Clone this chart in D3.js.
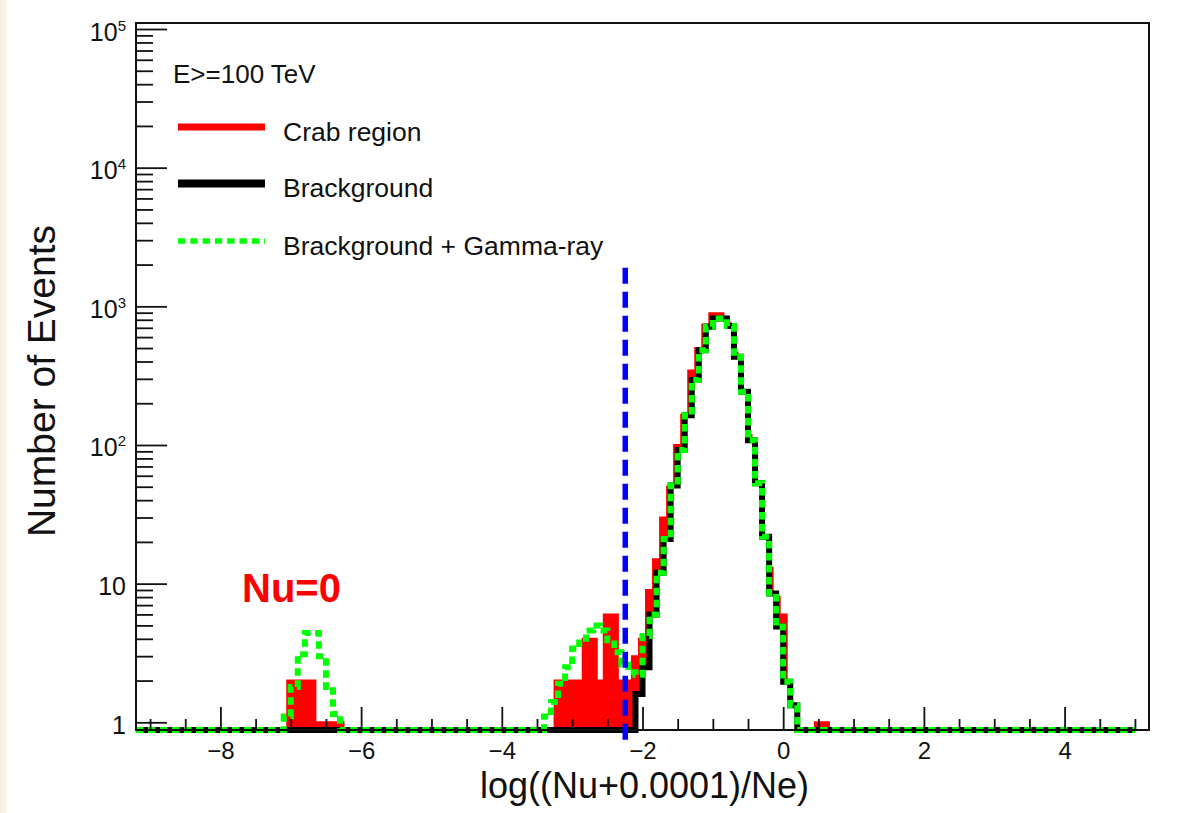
<!DOCTYPE html>
<html>
<head>
<meta charset="utf-8">
<script src="https://cdn.jsdelivr.net/npm/d3@7"></script>
<style>
  html, body { margin: 0; padding: 0; background: #ffffff; }
  svg { display: block; }
  text { font-family: "Liberation Sans", Arial, Helvetica, sans-serif; fill: #111; }
</style>
</head>
<body>
<svg id="chart" width="1178" height="813"></svg>
<script>
// ---------------------------------------------------------------------------
// Histogram contents, log((Nu+0.0001)/Ne), bin width 0.1.
// Background and Background+Gamma bins start at a left edge of -9.2;
// the Crab-region bins are centred on multiples of 0.1 (first centre -9.2).
// One row per unit of x.
// ---------------------------------------------------------------------------
const binWidth = 0.1;
const bkgFirstEdge = -9.2;
const crabFirstCenter = -9.2;

const crabCounts = [
  0, 0,                                   // -9.2 .. -9.1
  0, 0, 0, 0, 0, 0, 0, 0, 0, 0,           // -9.0 .. -8.1
  0, 0, 0, 0, 0, 0, 0, 0, 0, 0,           // -8.0 .. -7.1
  2, 2, 2, 2, 1, 1, 1, 1, 0, 0,           // -7.0 .. -6.1
  0, 0, 0, 0, 0, 0, 0, 0, 0, 0,           // -6.0 .. -5.1
  0, 0, 0, 0, 0, 0, 0, 0, 0, 0,           // -5.0 .. -4.1
  0, 0, 0, 0, 0, 0, 0, 0, 2, 2,           // -4.0 .. -3.1
  2, 2, 4, 4, 2, 6, 6, 2, 2, 3,           // -3.0 .. -2.1
  4, 9, 15, 30, 50, 100, 165, 345, 500, 740,        // -2.0 .. -1.1
  890, 890, 760, 460, 250, 118, 47, 20, 13, 8,       // -1.0 .. -0.1
  6, 0, 0, 0, 0, 1, 1, 0, 0, 0,           //  0.0 ..  0.9
  0, 0, 0, 0, 0, 0, 0, 0, 0, 0,           //  1.0 ..  1.9
  0, 0, 0, 0, 0, 0, 0, 0, 0, 0,           //  2.0 ..  2.9
  0, 0, 0, 0, 0, 0, 0, 0, 0, 0,           //  3.0 ..  3.9
  0, 0, 0, 0, 0, 0, 0, 0, 0, 0            //  4.0 ..  4.9
];

const backgroundCounts = [
  0, 0,
  0, 0, 0, 0, 0, 0, 0, 0, 0, 0,
  0, 0, 0, 0, 0, 0, 0, 0, 0, 0,
  0, 0, 0, 0, 0, 0, 0, 0, 0, 0,
  0, 0, 0, 0, 0, 0, 0, 0, 0, 0,
  0, 0, 0, 0, 0, 0, 0, 0, 0, 0,
  0, 0, 0, 0, 0, 0, 0, 0, 0, 0,
  0, 0, 0, 0, 0, 0, 0, 0, 0, 1.6,
  2.5, 6.0, 12, 21, 51, 92, 164, 294, 483, 711,
  818, 818, 720, 432, 242, 108, 53, 21.8, 8.5, 4.9,
  1.96, 1.33, 0, 0, 0, 0, 0, 0, 0, 0,
  0, 0, 0, 0, 0, 0, 0, 0, 0, 0,
  0, 0, 0, 0, 0, 0, 0, 0, 0, 0,
  0, 0, 0, 0, 0, 0, 0, 0, 0, 0,
  0, 0, 0, 0, 0, 0, 0, 0, 0, 0
];

const bkgGammaCounts = [
  0, 0,
  0, 0, 0, 0, 0, 0, 0, 0, 0, 0,
  0, 0, 0, 0, 0, 0, 0, 0, 0, 1.1,
  1.8, 3.1, 4.4, 4.4, 3.0, 1.8, 1.15, 0, 0, 0,
  0, 0, 0, 0, 0, 0, 0, 0, 0, 0,
  0, 0, 0, 0, 0, 0, 0, 0, 0, 0,
  0, 0, 0, 0, 0, 0, 1.1, 1.4, 1.9, 2.5,
  3.4, 4.0, 4.6, 5.0, 4.6, 3.9, 3.2, 2.6, 2.3, 2.2,
  4.2, 6.0, 12, 21, 51, 92, 164, 294, 483, 711,
  818, 818, 720, 432, 242, 108, 53, 21.8, 8.5, 4.9,
  1.96, 1.33, 0, 0, 0, 0, 0, 0, 0, 0,
  0, 0, 0, 0, 0, 0, 0, 0, 0, 0,
  0, 0, 0, 0, 0, 0, 0, 0, 0, 0,
  0, 0, 0, 0, 0, 0, 0, 0, 0, 0,
  0, 0, 0, 0, 0, 0, 0, 0, 0, 0
];

// Axis ranges and ticks
const xDomain = [-9.2, 5.2];
const yDomain = [0.88, 1.105e5];
const xMajorTicks = [-8, -6, -4, -2, 0, 2, 4];
const xMinorTicks = [-9, -8.5, -7.5, -7, -6.5, -5.5, -5, -4.5, -3.5, -3, -2.5,
                     -1.5, -1, -0.5, 0.5, 1, 1.5, 2.5, 3, 3.5, 4.5, 5];
const yMajorPowers = [0, 1, 2, 3, 4, 5];
const yMinorMantissas = [2, 3, 4, 5, 6, 7, 8, 9];

// Nu threshold cut (blue dashed line)
const cutX = -2.245;
const cutFrom = 1900;
const cutTo = 0.745;

// Texts
const energyLabel = "E>=100 TeV";
const legendLabels = ["Crab region", "Brackground", "Brackground + Gamma-ray"];
const xTitle = "log((Nu+0.0001)/Ne)";
const yTitle = "Number of Events";
const nuZeroLabel = "Nu=0";

// ---------------------------------------------------------------------------
const svg = d3.select("#chart");
const frame = { left: 136, right: 1149, top: 23, bottom: 730 };

// faint paper strip along the left border
const edgeGrad = svg.append("defs").append("linearGradient")
  .attr("id", "edgeFade").attr("x1", 0).attr("x2", 1).attr("y1", 0).attr("y2", 0);
edgeGrad.append("stop").attr("offset", 0).attr("stop-color", "#f8efe0");
edgeGrad.append("stop").attr("offset", 0.7).attr("stop-color", "#faf3e8");
edgeGrad.append("stop").attr("offset", 1).attr("stop-color", "#ffffff");
svg.append("rect").attr("x", 0).attr("y", 0).attr("width", 8).attr("height", 813)
  .attr("fill", "url(#edgeFade)");

const x = d3.scaleLinear().domain(xDomain).range([frame.left, frame.right]);
const y = d3.scaleLog().domain(yDomain).range([frame.bottom, frame.top]);
const yOf = v => (v > 0 ? y(v) : y.range()[0]);

svg.append("clipPath").attr("id", "plotClip")
  .append("rect").attr("x", frame.left).attr("y", 0)
  .attr("width", frame.right - frame.left).attr("height", 813);

function stepPoints(counts, firstEdge) {
  const pts = counts.map((c, i) => ({ e: firstEdge + i * binWidth, v: c }));
  pts.push({ e: firstEdge + counts.length * binWidth, v: counts[counts.length - 1] });
  return pts;
}

const stepLine = d3.line().curve(d3.curveStepAfter)
  .x(d => x(d.e)).y(d => yOf(d.v));
const stepArea = d3.area().curve(d3.curveStepAfter)
  .x(d => x(d.e)).y0(y.range()[0]).y1(d => yOf(d.v));

const plot = svg.append("g").attr("clip-path", "url(#plotClip)");

const crabPts = stepPoints(crabCounts, crabFirstCenter - binWidth / 2);
const bkgPts = stepPoints(backgroundCounts, bkgFirstEdge);
const gamPts = stepPoints(bkgGammaCounts, bkgFirstEdge);

// Crab region: solid red histogram
plot.append("path").attr("d", stepArea(crabPts)).attr("fill", "#ff0000");
plot.append("path").attr("d", stepLine(crabPts))
  .attr("fill", "none").attr("stroke", "#ff0000").attr("stroke-width", 2);

// Background: white-filled histogram with a thick black outline
plot.append("path").attr("d", stepArea(bkgPts)).attr("fill", "#ffffff");
plot.append("path").attr("d", stepLine(bkgPts))
  .attr("fill", "none").attr("stroke", "#000000").attr("stroke-width", 6);

// Background + Gamma-ray: green dashed outline
plot.append("path").attr("d", stepLine(gamPts))
  .attr("fill", "none").attr("stroke", "#00ff00").attr("stroke-width", 6)
  .attr("stroke-dasharray", "7.5,4.5");

// Axes (ticks point into the frame)
const tickStroke = "#111";
const xMinorAxis = d3.axisBottom(x).tickValues(xMinorTicks).tickSize(-11).tickFormat("");
const xMajorAxis = d3.axisBottom(x).tickValues(xMajorTicks).tickSize(-23).tickPadding(12)
  .tickFormat(d3.format("d"));
const yMinorValues = [];
yMajorPowers.slice(0, -1).forEach(p => yMinorMantissas.forEach(m => yMinorValues.push(m * Math.pow(10, p))));
const yMinorAxis = d3.axisLeft(y).tickValues(yMinorValues).tickSize(-17).tickFormat("");
const yMajorAxis = d3.axisLeft(y).tickValues(yMajorPowers.map(p => Math.pow(10, p)))
  .tickSize(-31).tickPadding(11).tickFormat("");

function styleAxis(g) {
  g.select(".domain").remove();
  g.selectAll(".tick line").attr("stroke", tickStroke).attr("stroke-width", 1.8);
}

svg.append("g").attr("transform", `translate(0,${frame.bottom})`).call(xMinorAxis).call(styleAxis);
const gx = svg.append("g").attr("transform", `translate(0,${frame.bottom})`).call(xMajorAxis).call(styleAxis);
gx.selectAll(".tick text").attr("font-size", 24).attr("fill", "#111")
  .style("font-family", '"Liberation Sans", Arial, sans-serif');

svg.append("g").attr("transform", `translate(${frame.left},0)`).call(yMinorAxis).call(styleAxis);
const gy = svg.append("g").attr("transform", `translate(${frame.left},0)`).call(yMajorAxis).call(styleAxis);
gy.selectAll(".tick text").each(function (d) {
  const t = d3.select(this).attr("x", -10).attr("dy", null).attr("y", 11)
    .attr("font-size", 25).attr("fill", "#111")
    .style("font-family", '"Liberation Sans", Arial, sans-serif');
  const p = Math.round(Math.log10(d));
  if (p === 0) t.text("1");
  else if (p === 1) t.text("10");
  else {
    t.append("tspan").text("10");
    t.append("tspan").attr("font-size", 15).attr("dy", -10).text(String(p));
  }
});

// Frame
svg.append("rect")
  .attr("x", frame.left).attr("y", frame.top)
  .attr("width", frame.right - frame.left).attr("height", frame.bottom - frame.top)
  .attr("fill", "none").attr("stroke", "#111").attr("stroke-width", 2);

// Cut line
svg.append("line")
  .attr("x1", x(cutX)).attr("x2", x(cutX))
  .attr("y1", y(cutFrom)).attr("y2", y(cutTo))
  .attr("stroke", "#0000ff").attr("stroke-width", 5.5)
  .attr("stroke-dasharray", "16,8");

// Axis titles
svg.append("text").attr("x", (frame.left + frame.right) / 2 + 2).attr("y", 798)
  .attr("text-anchor", "middle").attr("font-size", 36).text(xTitle);
svg.append("text").attr("transform", "translate(55,381) rotate(-90)")
  .attr("text-anchor", "middle").attr("font-size", 39).text(yTitle);

// Energy cut label and legend
svg.append("text").attr("x", 173).attr("y", 83).attr("font-size", 26).text(energyLabel);

const legendRows = [
  { label: legendLabels[0], color: "#ff0000", width: 7, dash: null, y: 127 },
  { label: legendLabels[1], color: "#000000", width: 8, dash: null, y: 183.5 },
  { label: legendLabels[2], color: "#00ff00", width: 5.5, dash: "7.3,5", y: 241 }
];
legendRows.forEach(r => {
  svg.append("line").attr("x1", 178).attr("x2", 265).attr("y1", r.y).attr("y2", r.y)
    .attr("stroke", r.color).attr("stroke-width", r.width)
    .attr("stroke-dasharray", r.dash);
  svg.append("text").attr("x", 283).attr("y", r.y + 13.5).attr("font-size", 26.5).text(r.label);
});

// Annotation for the Nu = 0 population
svg.append("text").attr("x", 242).attr("y", 602)
  .attr("font-size", 40).attr("font-weight", "bold")
  .style("fill", "#ff0000").text(nuZeroLabel);
</script>
</body>
</html>
